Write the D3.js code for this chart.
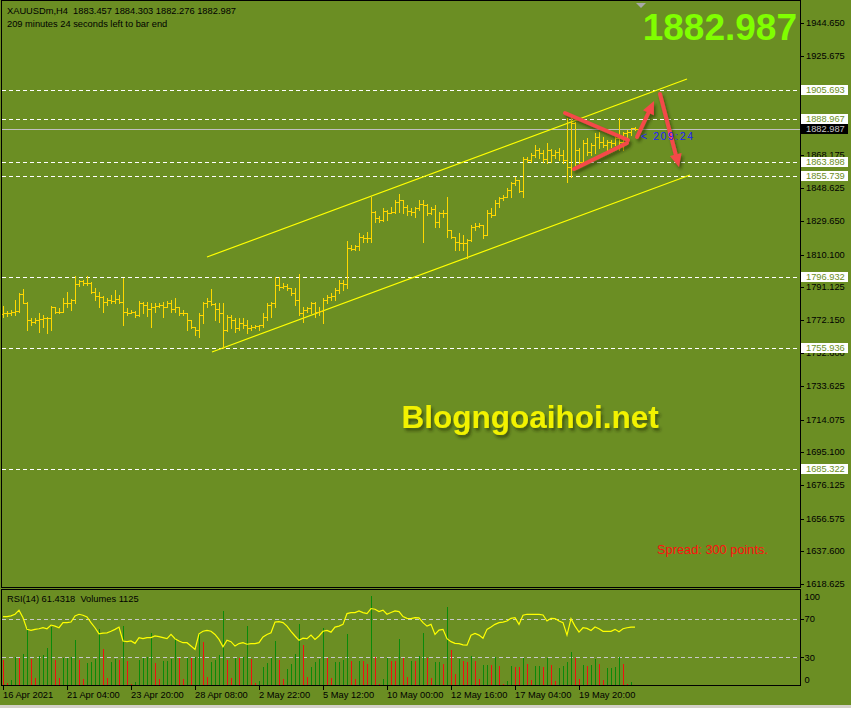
<!DOCTYPE html>
<html>
<head>
<meta charset="utf-8">
<script src="https://cdn.jsdelivr.net/npm/d3@7"></script>
<style>
  body { margin: 0; background: #6b8e23; }
  svg { display: block; }
  text { font-family: "Liberation Sans", Arial, sans-serif; }
</style>
</head>
<body>
<svg id="chart" width="851" height="708"></svg>
<script>
// XAUUSDm H4 bars, 16 Apr 2021 .. 21 May 2021
var opens = [1775.5,1776.3,1775.9,1776.9,1777.5,1787.2,1782.1,1772.0,1771.1,1772.0,
  1772.4,1773.0,1773.0,1779.4,1776.9,1776.9,1781.7,1781.7,1783.7,1793.0,
  1794.9,1793.4,1793.7,1788.5,1786.0,1785.6,1782.7,1783.7,1783.3,1784.1,
  1782.7,1776.9,1776.3,1776.9,1775.0,1781.7,1780.8,1778.2,1779.8,1780.2,
  1780.8,1779.8,1781.7,1778.2,1779.4,1776.3,1775.9,1772.0,1767.8,1766.2,
  1775.0,1781.7,1783.3,1781.3,1778.2,1775.9,1766.2,1774.0,1772.0,1767.2,
  1770.1,1769.1,1767.2,1768.2,1768.6,1769.1,1774.0,1780.8,1781.7,1792.4,
  1791.4,1791.8,1790.4,1787.5,1783.7,1775.9,1777.9,1778.8,1781.7,1776.9,
  1777.5,1783.7,1785.6,1786.0,1789.5,1793.4,1793.0,1813.7,1813.3,1815.0,
  1820.5,1819.5,1819.9,1835.0,1831.1,1830.2,1835.6,1834.4,1835.0,1840.8,
  1841.8,1837.5,1835.6,1835.0,1836.9,1839.5,1838.9,1834.0,1836.4,1829.2,
  1834.0,1834.4,1824.4,1820.1,1817.6,1817.0,1816.6,1818.5,1826.3,1826.7,
  1827.3,1821.5,1834.0,1833.1,1839.9,1842.8,1843.7,1847.6,1851.5,1853.4,
  1847.2,1865.4,1865.0,1867.9,1870.8,1868.9,1865.4,1870.8,1867.9,1869.9,
  1867.9,1865.0,1861.2,1886.3,1870.8,1864.1,1874.7,1869.9,1873.7,1878.6,
  1875.7,1873.7,1875.7,1874.7,1877.6,1875.7,1880.5,1881.5,1883.457];
var highs = [1780.2,1777.5,1777.9,1783.7,1787.5,1789.9,1782.3,1773.0,1773.0,1775.9,
  1775.0,1774.0,1780.2,1779.8,1778.8,1784.6,1788.5,1784.1,1797.6,1795.3,
  1795.1,1797.6,1794.3,1790.4,1788.5,1785.8,1784.6,1786.6,1789.5,1786.6,
  1796.3,1778.8,1777.9,1777.2,1783.1,1782.7,1782.7,1781.7,1781.7,1781.7,
  1782.7,1783.1,1783.7,1784.6,1779.8,1777.9,1776.2,1772.3,1768.2,1775.9,
  1782.7,1784.6,1789.9,1781.7,1781.7,1781.7,1775.0,1775.0,1773.0,1773.0,
  1773.0,1772.0,1769.1,1769.1,1769.3,1775.9,1781.7,1782.7,1797.2,1797.2,
  1793.4,1793.0,1790.6,1790.4,1798.8,1779.8,1779.8,1782.7,1782.7,1779.8,
  1784.6,1786.6,1787.5,1790.4,1795.3,1795.3,1817.9,1815.6,1815.6,1822.4,
  1821.4,1823.4,1843.7,1835.2,1832.5,1836.9,1836.0,1837.9,1841.8,1845.3,
  1842.0,1838.9,1836.9,1837.9,1841.8,1841.8,1839.3,1837.9,1838.9,1835.0,
  1836.0,1843.7,1824.6,1820.5,1822.4,1821.4,1818.9,1827.3,1828.2,1828.2,
  1827.4,1836.0,1836.9,1841.8,1843.7,1844.7,1848.6,1852.4,1855.3,1853.5,
  1867.0,1867.0,1868.9,1873.7,1871.8,1870.8,1874.7,1871.2,1870.8,1871.8,
  1870.8,1889.2,1890.2,1887.3,1871.8,1876.7,1877.6,1874.7,1880.5,1881.5,
  1878.6,1876.7,1876.7,1878.6,1889.2,1881.5,1882.5,1883.6,1884.303];
var lows = [1774.0,1774.4,1775.0,1775.0,1776.9,1781.7,1766.2,1769.1,1770.1,1765.3,
  1768.2,1764.3,1766.2,1775.9,1775.9,1776.5,1779.8,1777.9,1781.7,1791.8,
  1792.4,1792.4,1787.5,1783.7,1779.8,1776.9,1780.8,1781.7,1781.7,1781.7,
  1769.1,1775.0,1775.9,1774.0,1774.6,1775.9,1774.6,1768.2,1776.9,1779.8,
  1774.0,1779.5,1776.9,1776.9,1775.0,1775.0,1766.2,1767.5,1763.3,1762.4,
  1770.1,1779.8,1781.0,1772.0,1771.1,1755.6,1765.8,1767.2,1765.3,1766.2,
  1767.2,1764.3,1766.2,1767.2,1766.2,1768.2,1772.0,1774.0,1779.8,1789.5,
  1790.4,1789.5,1786.6,1780.8,1775.0,1771.1,1776.9,1775.9,1774.0,1775.0,
  1770.1,1781.7,1783.7,1783.7,1787.5,1789.5,1790.4,1812.7,1813.0,1812.7,
  1817.6,1817.6,1817.6,1829.2,1829.2,1829.8,1830.2,1834.0,1834.0,1835.0,
  1834.0,1833.1,1833.1,1832.1,1836.0,1817.6,1833.1,1833.6,1826.3,1826.3,
  1832.1,1820.5,1819.5,1812.7,1812.7,1812.7,1807.9,1818.1,1824.4,1826.3,
  1819.5,1821.4,1832.1,1833.0,1837.9,1841.8,1843.6,1843.7,1850.5,1846.6,
  1843.7,1864.1,1864.1,1867.0,1866.0,1864.1,1863.1,1864.1,1866.0,1865.0,
  1863.1,1852.4,1855.3,1862.1,1863.1,1863.5,1867.9,1867.9,1868.9,1871.8,
  1872.8,1870.8,1872.8,1873.7,1870.8,1870.8,1878.6,1879.6,1882.276];
var closes = [1776.3,1775.9,1776.9,1777.5,1787.2,1782.1,1772.0,1771.1,1772.0,1772.4,
  1773.0,1773.0,1779.4,1776.9,1776.9,1781.7,1781.7,1783.7,1793.0,1794.9,
  1793.4,1793.7,1788.5,1786.0,1785.6,1782.7,1783.7,1783.3,1784.1,1782.7,
  1776.9,1776.3,1776.9,1775.0,1781.7,1780.8,1778.2,1779.8,1780.2,1780.8,
  1779.8,1781.7,1778.2,1779.4,1776.3,1775.9,1772.0,1767.8,1766.2,1775.0,
  1781.7,1783.3,1781.3,1778.2,1775.9,1766.2,1774.0,1772.0,1767.2,1770.1,
  1769.1,1767.2,1768.2,1768.6,1769.1,1774.0,1780.8,1781.7,1792.4,1791.4,
  1791.8,1790.4,1787.5,1783.7,1775.9,1777.9,1778.8,1781.7,1776.9,1777.5,
  1783.7,1785.6,1786.0,1789.5,1793.4,1793.0,1813.7,1813.3,1815.0,1820.5,
  1819.5,1819.9,1835.0,1831.1,1830.2,1835.6,1834.4,1835.0,1840.8,1841.8,
  1837.5,1835.6,1835.0,1836.9,1839.5,1838.9,1834.0,1836.4,1829.2,1834.0,
  1834.4,1824.4,1820.1,1817.6,1817.0,1816.6,1818.5,1826.3,1826.7,1827.3,
  1821.5,1834.0,1833.1,1839.9,1842.8,1843.7,1847.6,1851.5,1853.4,1847.2,
  1865.4,1865.0,1867.9,1870.8,1868.9,1865.4,1870.8,1867.9,1869.9,1867.9,
  1865.0,1861.2,1886.3,1870.8,1864.1,1874.7,1869.9,1873.7,1878.6,1875.7,
  1873.7,1875.7,1874.7,1877.6,1875.7,1880.5,1881.5,1883.457,1882.987];

// RSI(14) and tick volumes, same bars
var rsi = [72.3,72.3,73.0,74.7,79.0,71.0,59.0,58.0,59.0,59.6,
  60.7,59.6,63.5,62.4,60.7,66.0,66.0,66.6,73.0,74.7,
  73.7,72.0,66.0,60.7,54.4,55.0,55.4,57.0,59.0,61.4,
  46.9,46.2,46.9,44.4,50.4,49.3,50.4,50.4,52.1,51.4,
  50.4,49.3,53.7,49.3,46.9,45.1,45.1,41.6,38.1,54.4,
  57.0,57.9,57.0,53.7,48.5,40.9,47.6,46.2,41.6,44.2,
  45.1,43.5,44.2,44.2,45.1,51.1,53.7,55.4,66.6,67.0,
  66.0,62.4,57.0,52.1,47.6,49.8,49.3,53.1,48.5,52.1,
  57.0,57.9,56.1,61.4,62.4,64.2,75.4,76.5,76.5,78.2,
  76.5,75.4,80.7,80.0,77.5,79.0,74.7,76.5,78.2,77.5,
  72.3,70.5,70.2,71.2,71.0,66.0,62.4,64.2,53.7,58.2,
  59.0,49.3,46.2,44.4,44.2,42.8,42.5,52.8,54.7,53.0,
  49.8,59.0,61.4,64.2,66.0,66.6,67.7,70.5,71.2,64.2,
  73.7,74.7,74.7,74.7,74.7,74.0,67.7,70.5,70.2,67.7,
  66.0,53.0,70.2,62.4,56.1,60.7,60.0,57.9,61.4,59.6,
  57.0,57.0,57.0,59.0,56.5,59.6,60.7,61.4,61.4318];
var volumes = [26000,2700,6000,29300,28300,32000,57700,27000,8300,30000,
  31000,37700,59300,26000,8300,27700,28300,29300,46000,26000,
  7000,22700,24300,27000,56700,37000,8300,23700,27000,26000,
  60000,25000,2000,3700,26000,27700,29300,52700,22700,7000,
  25000,25300,27000,47700,27700,7000,28300,27700,29300,52700,
  44300,9300,23700,26000,31000,75000,26000,8300,28500,28000,
  28700,60000,27000,3300,5000,19300,22700,27700,45000,26000,
  7000,17000,22000,32000,62000,41000,9300,19300,24300,27000,
  58300,28300,8300,24300,24500,26000,51700,25000,7000,25000,
  24700,21700,90000,29300,2000,7000,27700,25000,24700,47000,
  27700,9300,25000,24800,30000,52700,28300,8300,23700,24000,
  21700,79000,36000,11700,27000,25000,23700,30000,25000,7000,
  21000,21300,21000,29300,20300,2000,5000,20300,19300,19000,
  28300,22000,6000,20300,20500,19300,28300,21000,5000,18300,
  20300,23700,34300,28300,7000,21000,20300,21000,27000,22000,
  6000,18300,18500,19300,29300,22000,2000,4300,1125];

var timeIdx = [0, 16, 32, 48, 64, 80, 96, 112, 128, 144];
var timeLabels = ["16 Apr 2021", "21 Apr 04:00", "23 Apr 20:00", "28 Apr 08:00", "2 May 22:00",
  "5 May 12:00", "10 May 00:00", "12 May 16:00", "17 May 04:00", "19 May 20:00"];
var priceTicks = ["1944.650","1925.675","1906.700","1887.150","1868.175","1848.625","1829.650",
  "1810.100","1791.125","1772.150","1752.600","1733.625","1714.075","1695.100","1676.125",
  "1656.575","1637.600","1618.625"];
var rsiTicks = [100, 70, 30, 0];
var rsiLevels = [70, 30];
var hlines = [1905.693, 1888.967, 1863.898, 1855.739, 1796.932, 1755.936, 1685.322];
var bid = 1882.987;

// channel lines and hand-drawn arrows, as [bar index, price] pairs
var channel = [
  [[51, 1808.66], [171, 1912.11]],
  [[52.25, 1753.45], [171.75, 1856.32]]
];
var redLines = [
  [[140.5, 1892.35], [156.25, 1876.65]],
  [[142.75, 1859.8], [156, 1874.91]]
];
var redArrows = [
  [[158.5, 1878.4], [162.75, 1899.32]],
  [[164.25, 1903.39], [169, 1860.96]]
];

var svg = d3.select("#chart");
var x = d3.scaleLinear().domain([0, 1]).range([3, 7]);
var y = d3.scaleLinear().domain([1618.625, 1944.65]).range([584, 23]);
var yR = d3.scaleLinear().domain([0, 100]).range([686, 590]);
var yV = d3.scaleLinear().domain([0, d3.max(volumes)]).range([686, 596]);
var last = closes.length - 1;

var defs = svg.append("defs");
defs.append("filter").attr("id", "shadow").attr("x", "-20%").attr("y", "-20%")
  .attr("width", "140%").attr("height", "160%")
  .append("feDropShadow").attr("dx", 2).attr("dy", 3).attr("stdDeviation", 1.6)
  .attr("flood-color", "#1e2a05").attr("flood-opacity", 0.55);

svg.append("rect").attr("width", 851).attr("height", 708).attr("fill", "#6b8e23");
svg.append("rect").attr("x", 0).attr("y", 705).attr("width", 851).attr("height", 3).attr("fill", "#d4d0c8");

// ---------- main window ----------
var main = svg.append("g");

main.selectAll(".hl").data(hlines).enter().append("line")
  .attr("x1", 2).attr("x2", 800)
  .attr("y1", function(d){ return Math.round(y(d)) + 0.5; })
  .attr("y2", function(d){ return Math.round(y(d)) + 0.5; })
  .attr("stroke", "#ffffff").attr("stroke-dasharray", "4,3");

main.append("line").attr("x1", 2).attr("x2", 800)
  .attr("y1", Math.round(y(bid)) + 0.5).attr("y2", Math.round(y(bid)) + 0.5)
  .attr("stroke", "#c0c0c0");

main.selectAll(".ch").data(channel).enter().append("line")
  .attr("x1", function(d){ return x(d[0][0]); }).attr("y1", function(d){ return y(d[0][1]); })
  .attr("x2", function(d){ return x(d[1][0]); }).attr("y2", function(d){ return y(d[1][1]); })
  .attr("stroke", "#ffff00").attr("stroke-width", 1.2);

// OHLC bars
var bars = main.append("g").attr("fill", "#ffd700").attr("shape-rendering", "crispEdges");
closes.forEach(function(c, i) {
  var cx = Math.round(x(i));
  var yh = Math.round(y(highs[i])), yl = Math.round(y(lows[i]));
  bars.append("rect").attr("x", cx).attr("y", yh).attr("width", 1).attr("height", Math.max(1, yl - yh + 1));
  bars.append("rect").attr("x", cx - 2).attr("y", Math.round(y(opens[i]))).attr("width", 2).attr("height", 1);
  bars.append("rect").attr("x", cx + 1).attr("y", Math.round(y(c))).attr("width", 2).attr("height", 1);
});

// red drawings
var red = main.append("g").attr("filter", "url(#shadow)");
red.selectAll(".rl").data(redLines).enter().append("line")
  .attr("x1", function(d){ return x(d[0][0]); }).attr("y1", function(d){ return y(d[0][1]); })
  .attr("x2", function(d){ return x(d[1][0]); }).attr("y2", function(d){ return y(d[1][1]); })
  .attr("stroke", "#f44848").attr("stroke-width", 4).attr("stroke-linecap", "round");
redArrows.forEach(function(a) {
  var x0 = x(a[0][0]), y0 = y(a[0][1]), x1 = x(a[1][0]), y1 = y(a[1][1]);
  var dx = x1 - x0, dy = y1 - y0, len = Math.sqrt(dx * dx + dy * dy);
  var ux = dx / len, uy = dy / len, hl = 13, hw = 6;
  var bx = x1 - ux * hl, by = y1 - uy * hl;
  red.append("line").attr("x1", x0).attr("y1", y0).attr("x2", bx).attr("y2", by)
    .attr("stroke", "#f44848").attr("stroke-width", 4).attr("stroke-linecap", "round");
  red.append("path")
    .attr("d", "M" + x1 + "," + y1 + "L" + (bx - uy * hw) + "," + (by + ux * hw) +
      "L" + (bx + uy * hw) + "," + (by - ux * hw) + "Z")
    .attr("fill", "#f44848");
});

// texts on the chart
main.append("text").attr("x", 7).attr("y", 14).style("white-space", "pre")
  .attr("font-size", "9.3px").attr("fill", "#000")
  .text("XAUUSDm,H4  " + opens[last] + " " + highs[last] + " " + lows[last] + " " + closes[last]);
main.append("text").attr("x", 7).attr("y", 27)
  .attr("font-size", "9.3px").attr("fill", "#000")
  .text("209 minutes 24 seconds left to bar end");
main.append("text").attr("x", 797).attr("y", 39.5).attr("text-anchor", "end")
  .attr("font-size", "37px").attr("font-weight", "bold").attr("fill", "#80ff00")
  .text(bid.toFixed(3));
main.append("path")
  .attr("d", "M" + (x(last) + 1) + ",3 h10 l-5,5 Z").attr("fill", "#a8a8a8");
main.append("text").attr("x", x(last) + 6).attr("y", y(bid) + 10.5)
  .attr("font-size", "10.5px").attr("fill", "#1e1eff").attr("textLength", 52)
  .style("white-space", "pre").text("< 209:24");
main.append("text").attr("x", 401.5).attr("y", 428.3)
  .attr("font-size", "31.5px").attr("font-weight", "bold").attr("fill", "#f2f200")
  .attr("filter", "url(#shadow)").text("Blogngoaihoi.net");
main.append("text").attr("x", 657).attr("y", 554)
  .attr("font-size", "12.8px").attr("fill", "#ff1010").text("Spread: 300 points.");

// ---------- RSI / Volumes window ----------
var sub = svg.append("g");
sub.selectAll(".lv").data(rsiLevels).enter().append("line")
  .attr("x1", 2).attr("x2", 800)
  .attr("y1", function(d){ return Math.round(yR(d)) + 0.5; })
  .attr("y2", function(d){ return Math.round(yR(d)) + 0.5; })
  .attr("stroke", "#c8c8c8").attr("stroke-dasharray", "4,3");
sub.append("g").attr("shape-rendering", "crispEdges").selectAll("rect").data(volumes).enter().append("rect")
  .attr("x", function(d, i){ return Math.round(x(i)); })
  .attr("y", function(d){ return Math.round(yV(d)); })
  .attr("width", 1)
  .attr("height", function(d){ return 686 - Math.round(yV(d)); })
  .attr("fill", function(d, i){ return i > 0 && d > volumes[i - 1] ? "#0a8a0a" : "#f01010"; });
sub.append("path").datum(rsi)
  .attr("d", d3.line().x(function(d, i){ return x(i); }).y(function(d){ return yR(d); }))
  .attr("fill", "none").attr("stroke", "#ffff00").attr("stroke-width", 1.2);
sub.append("text").attr("x", 7).attr("y", 602).style("white-space", "pre")
  .attr("font-size", "9.3px").attr("fill", "#000")
  .text("RSI(14) " + rsi[last] + "  Volumes " + volumes[last]);

// ---------- frames ----------
var frame = svg.append("g").attr("fill", "none").attr("stroke", "#000").attr("shape-rendering", "crispEdges");
frame.append("rect").attr("x", 1.5).attr("y", 0.5).attr("width", 799).attr("height", 587);
frame.append("rect").attr("x", 1.5).attr("y", 589.5).attr("width", 799).attr("height", 96);

// ---------- price axis ----------
// labels of the horizontal lines sit on top of the price scale; ticks fully hidden by them are skipped
var boxLevels = hlines.concat([bid]).map(function(h){ return Math.round(y(h)); });
var axis = svg.append("g").attr("font-size", "9.3px");
priceTicks.forEach(function(t) {
  var py = Math.round(y(+t));
  axis.append("line").attr("x1", 801).attr("x2", 804).attr("y1", py + 0.5).attr("y2", py + 0.5).attr("stroke", "#000");
  var hidden = boxLevels.some(function(b){ return Math.abs(b - py) <= 4; });
  if (!hidden) axis.append("text").attr("x", 806).attr("y", py + 3.4).attr("fill", "#000").text(t);
});
hlines.forEach(function(h) {
  var py = Math.round(y(h));
  axis.append("rect").attr("x", 801).attr("y", py - 5).attr("width", 47).attr("height", 10).attr("fill", "#fff");
  axis.append("text").attr("x", 806).attr("y", py + 3.4).attr("fill", "#6b8e23").text(h.toFixed(3));
});
var by0 = Math.round(y(bid));
axis.append("rect").attr("x", 801).attr("y", by0 - 5).attr("width", 47).attr("height", 10).attr("fill", "#000");
axis.append("text").attr("x", 806).attr("y", by0 + 3.4).attr("fill", "#c8c8c8").text(bid.toFixed(3));

// RSI axis
rsiTicks.forEach(function(t) {
  var ry = Math.max(596.5, Math.min(679.5, yR(t)));
  if (t > 0 && t < 100) {
    axis.append("line").attr("x1", 801).attr("x2", 804).attr("y1", Math.round(yR(t)) + 0.5)
      .attr("y2", Math.round(yR(t)) + 0.5).attr("stroke", "#000");
  }
  axis.append("text").attr("x", 804.5).attr("y", ry + 3.4).attr("fill", "#000").text(t);
});

// time axis
timeIdx.forEach(function(ti, k) {
  var tx = Math.round(x(ti));
  axis.append("line").attr("x1", tx + 0.5).attr("x2", tx + 0.5).attr("y1", 686).attr("y2", 690).attr("stroke", "#000");
  axis.append("text").attr("x", tx).attr("y", 698.3).attr("fill", "#000").text(timeLabels[k]);
});
</script>
</body>
</html>
